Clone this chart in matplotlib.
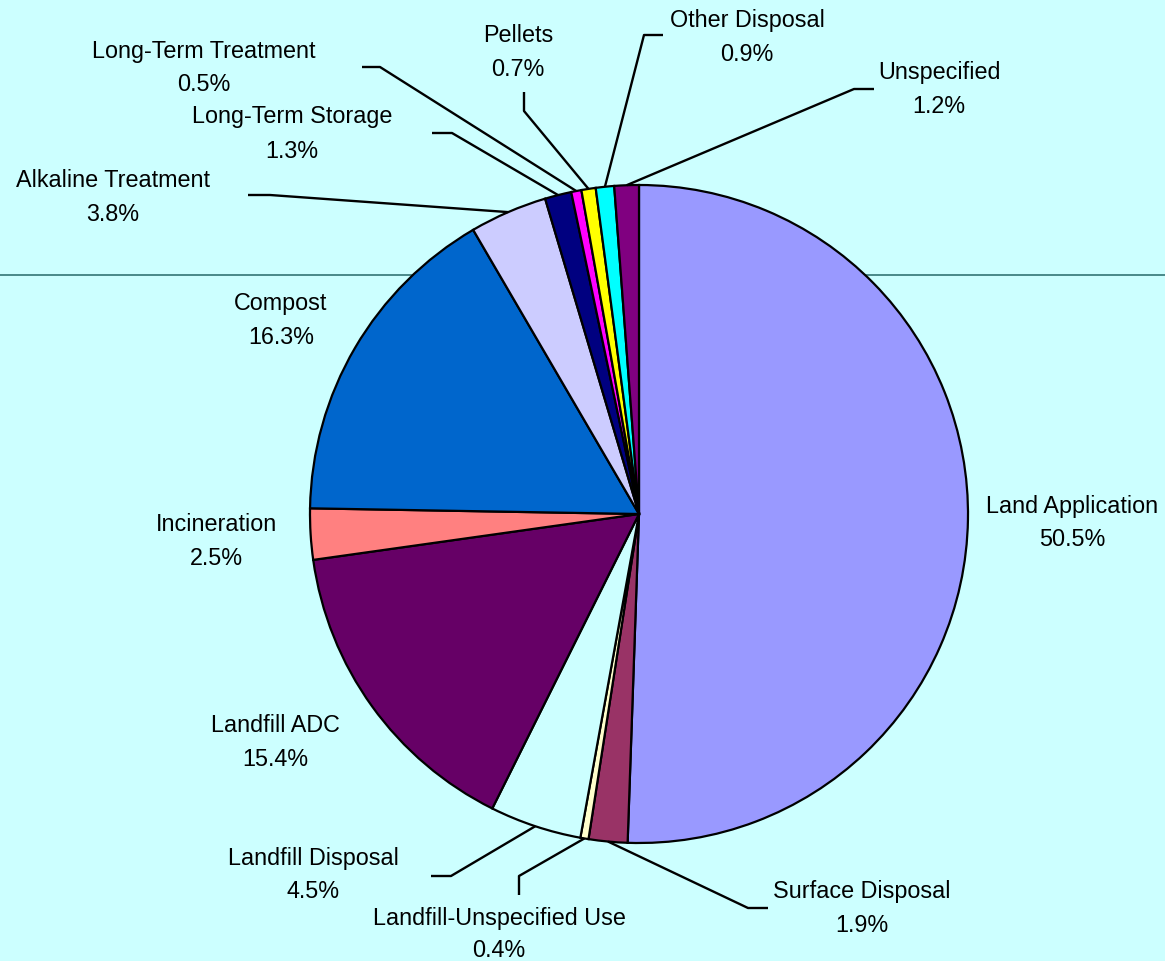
import numpy as np
import matplotlib.pyplot as plt

plt.rcParams['font.family'] = ['Liberation Sans', 'DejaVu Sans']

#slice names, shares and colours, clockwise from the top
labels = ["Land Application", "Surface Disposal", "Landfill-Unspecified Use",
          "Landfill Disposal", "Landfill ADC", "Incineration", "Compost",
          "Alkaline Treatment", "Long-Term Storage", "Long-Term Treatment",
          "Pellets", "Other Disposal", "Unspecified"]
shares = [50.5, 1.9, 0.4, 4.5, 15.4, 2.5, 16.3, 3.8, 1.3, 0.5, 0.7, 0.9, 1.2]
colors = ["#9999FF", "#993366", "#FFFFCC", "#CCFFFF", "#660066", "#FF8080",
          "#0066CC", "#CCCCFF", "#000080", "#FF00FF", "#FFFF00", "#00FFFF",
          "#800080"]

bg = "#CCFFFF"
W, H = 1165, 961
cx, cy, r = 639, 514, 329

#label placement in pixels: text centre x, baseline of name, baseline of percent
text_pos = {
    "Land Application": (1072, 513, 546),
    "Surface Disposal": (862, 898, 932),
    "Landfill-Unspecified Use": (499, 925, 957),
    "Landfill Disposal": (313, 865, 898),
    "Landfill ADC": (275, 732, 766),
    "Incineration": (216, 531, 565),
    "Compost": (281, 310, 344),
    "Alkaline Treatment": (113, 187, 221),
    "Long-Term Storage": (292, 123, 158),
    "Long-Term Treatment": (204, 58, 91),
    "Pellets": (518, 42, 76),
    "Other Disposal": (747, 27, 61),
    "Unspecified": (939, 79, 113),
}

#leader lines: elbow point then end point next to the label
leaders = {
    "Surface Disposal": [(748, 908), (768, 908)],
    "Landfill-Unspecified Use": [(519, 876), (519, 895)],
    "Landfill Disposal": [(451, 876), (431, 876)],
    "Alkaline Treatment": [(270, 195), (248, 195)],
    "Long-Term Storage": [(452, 133), (432, 133)],
    "Long-Term Treatment": [(380, 67), (362, 67)],
    "Pellets": [(524, 111), (524, 92)],
    "Other Disposal": [(644, 35), (663, 35)],
    "Unspecified": [(854, 89), (874, 89)],
}

fig = plt.figure(figsize=(W / 100, H / 100), dpi=100, facecolor=bg)
ax = fig.add_axes([0, 0, 1, 1])
ax.set_facecolor(bg)

#the stray grey line behind the pie
ax.axhline(275, color="#3F7F7F", lw=1.3, zorder=0)

#y axis runs downward, so counterclock in data is clockwise on screen
wedges, _ = ax.pie(shares, colors=colors, startangle=270, counterclock=True,
                   center=(cx, cy), radius=r,
                   wedgeprops=dict(edgecolor="black", linewidth=1.6))

ax.set_xlim(0, W)
ax.set_ylim(H, 0)
ax.set_aspect('equal')
ax.axis('off')

for w, name, val in zip(wedges, labels, shares):
    x, y1, y2 = text_pos[name]
    ax.text(x, y1, name, ha='center', va='baseline', fontsize=16.8)
    ax.text(x, y2, "%.1f%%" % val, ha='center', va='baseline', fontsize=16.8)
    if name in leaders:
        mid = np.deg2rad((w.theta1 + w.theta2) / 2)
        px = cx + r * np.cos(mid)
        py = cy + r * np.sin(mid)
        pts = [(px, py)] + leaders[name]
        ax.plot([p[0] for p in pts], [p[1] for p in pts], color="black",
                lw=1.7, solid_capstyle='butt', zorder=3)

fig.savefig("out.png", dpi=100, facecolor=bg)
